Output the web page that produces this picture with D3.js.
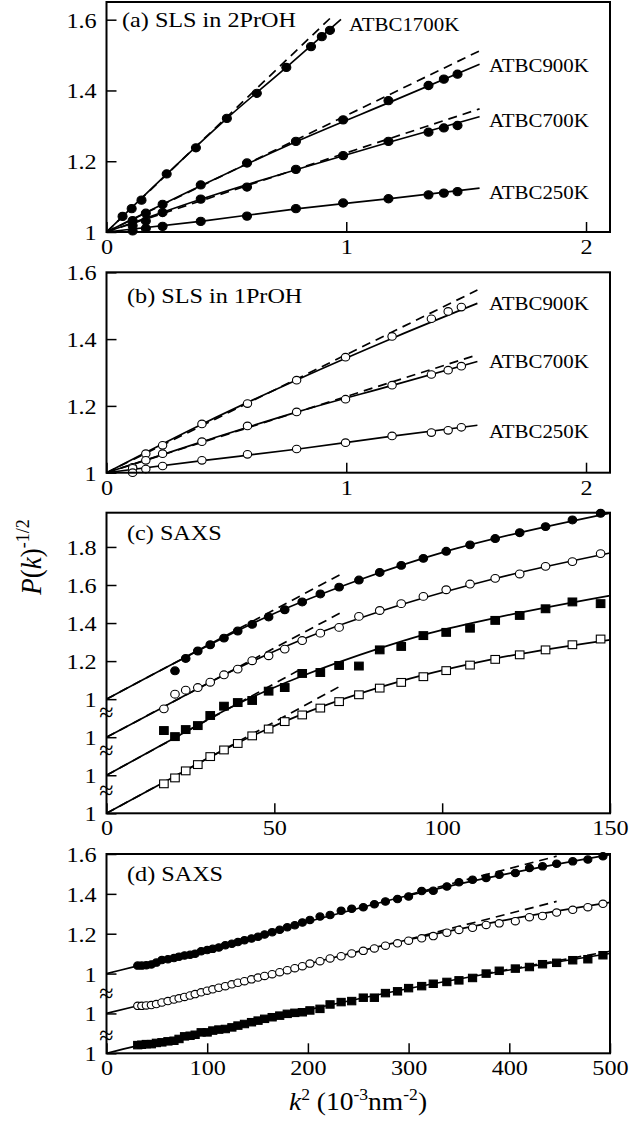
<!DOCTYPE html>
<html>
<head>
<meta charset="utf-8">
<script src="https://cdn.jsdelivr.net/npm/d3@7"></script>
<style>
  body { margin: 0; background: #fff; }
  svg { display: block; font-family: "Liberation Serif", "Times New Roman", serif; }
</style>
</head>
<body>
<svg id="chart" width="630" height="1133"></svg>
<script>
// ---- (a) SLS in 2PrOH : k^2 (nm^-2 x 1e-3), P(k)^-1/2
const aX1700 = [0.067, 0.105, 0.146, 0.251, 0.373, 0.502, 0.627, 0.750, 0.853, 0.898, 0.932];
const aY1700 = [1.044, 1.066, 1.090, 1.164, 1.238, 1.321, 1.392, 1.465, 1.524, 1.552, 1.570];
const aX = [0.109, 0.164, 0.234, 0.393, 0.586, 0.790, 0.987, 1.176, 1.343, 1.407, 1.464];
const aY900 = [1.032, 1.053, 1.078, 1.133, 1.195, 1.256, 1.317, 1.371, 1.414, 1.432, 1.446];
const aY700 = [1.018, 1.031, 1.055, 1.093, 1.127, 1.177, 1.216, 1.256, 1.282, 1.294, 1.301];
const aY250 = [1.003, 1.010, 1.016, 1.030, 1.045, 1.066, 1.082, 1.094, 1.105, 1.110, 1.114];
const aFit1700 = [[0, 1], [0.25, 1.163], [0.5, 1.32], [0.75, 1.465], [0.978, 1.601]];
const aFit900 = [[0, 1], [0.4, 1.133], [0.8, 1.258], [1.2, 1.372], [1.556, 1.474]];
const aFit700 = [[0, 1], [0.4, 1.094], [0.8, 1.178], [1.2, 1.258], [1.556, 1.326]];
const aFit250 = [[0, 1], [0.4, 1.031], [0.8, 1.066], [1.2, 1.096], [1.556, 1.124]];
const aInit1700 = [[0, 1], [0.942, 1.61]];
const aInit900 = [[0, 1], [1.556, 1.512]];
const aInit700 = [[0, 1], [1.556, 1.348]];

// ---- (b) SLS in 1PrOH
const bX = [0.109, 0.164, 0.234, 0.398, 0.588, 0.793, 0.997, 1.191, 1.355, 1.425, 1.480];
const bY900 = [1.016, 1.057, 1.082, 1.146, 1.207, 1.277, 1.346, 1.408, 1.461, 1.483, 1.496];
const bY700 = [1.013, 1.037, 1.057, 1.093, 1.140, 1.182, 1.220, 1.262, 1.294, 1.307, 1.319];
const bY250 = [1.000, 1.011, 1.020, 1.037, 1.055, 1.071, 1.090, 1.110, 1.120, 1.127, 1.136];
const bFit900 = [[0, 1], [0.4, 1.146], [0.8, 1.28], [1.2, 1.405], [1.547, 1.507]];
const bFit700 = [[0, 1], [0.4, 1.093], [0.8, 1.183], [1.2, 1.263], [1.547, 1.333]];
const bFit250 = [[0, 1], [0.4, 1.036], [0.8, 1.071], [1.2, 1.11], [1.547, 1.142]];
const bInit900 = [[0, 1], [1.547, 1.547]];
const bInit700 = [[0, 1], [1.547, 1.353]];

// ---- (c) SAXS, four curves stacked (real values, shifted by offsets)
const cX = [17.1, 20.4, 23.6, 27.2, 30.9, 35.0, 39.1, 43.4, 48.3, 53.1, 58.3, 63.7,
            69.3, 75.2, 81.4, 87.8, 94.4, 101.2, 108.3, 115.8, 123.1, 130.8, 138.8, 147.2];
const cFilledCircle = [1.149, 1.214, 1.253, 1.286, 1.321, 1.358, 1.393, 1.432, 1.470, 1.511, 1.553, 1.589,
                       1.626, 1.666, 1.703, 1.740, 1.777, 1.811, 1.844, 1.875, 1.907, 1.942, 1.977];
const cOpenCircle = [1.149, 1.226, 1.247, 1.261, 1.289, 1.328, 1.358, 1.402, 1.428, 1.463, 1.508, 1.547,
                     1.577, 1.635, 1.666, 1.702, 1.740, 1.775, 1.805, 1.835, 1.858, 1.898, 1.923, 1.965];
const cFilledSquare = [1.235, 1.203, 1.240, 1.261, 1.314, 1.363, 1.382, 1.393, 1.442, 1.461, 1.535, 1.540,
                       1.577, 1.574, 1.659, 1.677, 1.734, 1.751, 1.773, 1.814, 1.840, 1.875, 1.911, 1.902];
const cOpenSquare = [1.155, 1.186, 1.223, 1.256, 1.298, 1.333, 1.367, 1.407, 1.443, 1.482, 1.517, 1.553,
                     1.587, 1.623, 1.658, 1.688, 1.718, 1.750, 1.779, 1.809, 1.833, 1.859, 1.886, 1.916];
const cFitFC = [[0, 1], [23.3, 1.218], [48.3, 1.437], [75.2, 1.626], [101.2, 1.777], [123.1, 1.875], [150, 1.978]];
const cFitOC = [[0, 1], [17.3, 1.162], [39.2, 1.364], [58.1, 1.512], [87.7, 1.696], [115.5, 1.833], [150, 1.968]];
const cFitFS = [[0, 1], [17.5, 1.169], [39.2, 1.376], [58.1, 1.52], [81.5, 1.668], [94.4, 1.738], [115.5, 1.826], [150, 1.944]];
const cFitOS = [[0, 1], [17.5, 1.167], [39.2, 1.371], [58.1, 1.52], [87.7, 1.695], [115.5, 1.812], [150, 1.912]];
const cInitFC = [[0, 1], [70, 1.658]];
const cInitOC = [[0, 1], [70, 1.656]];
const cInitFS = [[0, 1], [57, 1.549]];
const cInitOS = [[0, 1], [70, 1.672]];

// ---- (d) SAXS, three curves stacked
const dX = [31, 35, 39.5, 44.5, 49.5, 55, 61, 67, 72, 77.5, 83, 88, 94, 100, 105.5, 111.5, 118, 124.5,
            130.5, 137, 144, 150.5, 157, 164.5, 172, 179.5, 187, 194.5, 202, 212, 222, 233, 243.5, 255,
            266, 277, 289, 300, 313, 324.5, 338, 350, 363.5, 377, 390, 406, 420, 433, 447, 463, 478, 493];
const dFilledCircle = [1.040, 1.040, 1.042, 1.046, 1.055, 1.068, 1.072, 1.078, 1.085, 1.091, 1.094, 1.100,
                       1.112, 1.118, 1.124, 1.131, 1.142, 1.150, 1.158, 1.167, 1.176, 1.185, 1.196, 1.208,
                       1.220, 1.232, 1.243, 1.256, 1.269, 1.286, 1.294, 1.315, 1.325, 1.333, 1.348, 1.362,
                       1.374, 1.387, 1.414, 1.416, 1.437, 1.458, 1.471, 1.480, 1.496, 1.505, 1.530, 1.538,
                       1.551, 1.563, 1.572, 1.589];
const dOpenCircle = [1.038, 1.038, 1.040, 1.042, 1.047, 1.055, 1.062, 1.070, 1.076, 1.083, 1.090, 1.097,
                     1.106, 1.114, 1.121, 1.129, 1.137, 1.146, 1.154, 1.162, 1.171, 1.180, 1.188, 1.197,
                     1.207, 1.217, 1.227, 1.237, 1.250, 1.262, 1.276, 1.287, 1.301, 1.314, 1.326, 1.340,
                     1.352, 1.365, 1.377, 1.388, 1.405, 1.419, 1.430, 1.444, 1.452, 1.463, 1.483, 1.489,
                     1.506, 1.520, 1.533, 1.550];
const dFilledSquare = [1.041, 1.043, 1.046, 1.046, 1.052, 1.055, 1.060, 1.063, 1.072, 1.085, 1.088, 1.093,
                       1.105, 1.105, 1.114, 1.119, 1.122, 1.130, 1.139, 1.147, 1.156, 1.164, 1.173, 1.181,
                       1.189, 1.198, 1.203, 1.206, 1.215, 1.223, 1.245, 1.257, 1.262, 1.279, 1.279, 1.302,
                       1.311, 1.327, 1.337, 1.349, 1.358, 1.366, 1.378, 1.400, 1.414, 1.425, 1.433, 1.447,
                       1.454, 1.467, 1.472, 1.492];
const dFitFC = [[0, 1], [28, 1.035], [100, 1.125], [200, 1.26], [300, 1.392], [400, 1.503], [500, 1.597]];
const dFitOC = [[0, 1], [28, 1.035], [100, 1.12], [200, 1.248], [300, 1.37], [400, 1.472], [500, 1.557]];
const dFitFS = [[0, 1], [28, 1.035], [100, 1.103], [200, 1.218], [300, 1.325], [400, 1.418], [500, 1.501]];
const dInitFC = [[300, 1.395], [447, 1.589]];
const dInitOC = [[300, 1.372], [447, 1.562]];
const dInitFS = [[360, 1.385], [500, 1.512]];

// ---- layout
const svg = d3.select("#chart");
const L = 106.5, R = 610;
const STRETCH = 1.1; // the original figure is a bit wider than tall

function addText(parent, x, y, str, size, anchor) {
  return parent.append("text")
    .attr("transform", `translate(${x},${y}) scale(${STRETCH},1)`)
    .attr("font-size", size)
    .attr("text-anchor", anchor || "start")
    .text(str);
}

function drawMarker(g, sym, cx, cy, size) {
  if (sym === "fc" || sym === "oc") {
    g.append("ellipse")
      .attr("cx", cx).attr("cy", cy)
      .attr("rx", size * STRETCH).attr("ry", size)
      .attr("fill", sym === "fc" ? "#000" : "#fff")
      .attr("stroke", "#000").attr("stroke-width", 1.1);
  } else {
    const w = size * 2;
    g.append("rect")
      .attr("x", cx - w * STRETCH / 2).attr("y", cy - w / 2)
      .attr("width", w * STRETCH).attr("height", w)
      .attr("fill", sym === "fs" ? "#000" : "#fff")
      .attr("stroke", "#000").attr("stroke-width", 1.1);
  }
}

function drawPanel(p) {
  const x = d3.scaleLinear().domain(p.xDomain).range([L, R]);
  const y = d3.scaleLinear().domain(p.yDomain).range([p.bottom, p.top]);
  const g = svg.append("g");

  const xAxis = d3.axisBottom(x).tickValues(p.xTicks)
    .tickSizeInner(-10).tickSizeOuter(0).tickPadding(5).tickFormat(d3.format("d"));
  const gx = g.append("g").attr("transform", `translate(0,${p.bottom})`).call(xAxis);

  const yAxis = d3.axisLeft(y).tickValues(p.yTicks)
    .tickSizeInner(-10).tickSizeOuter(0).tickPadding(9)
    .tickFormat((d, i) => p.yLabels[i]);
  const gy = g.append("g").attr("transform", `translate(${L},0)`).call(yAxis);

  [gx, gy].forEach(a => {
    a.attr("font-size", null).attr("font-family", null);
    a.select(".domain").remove();
    a.selectAll(".tick line").attr("stroke", "#000").attr("stroke-width", 1.5);
    a.selectAll(".tick text").attr("font-size", 22).attr("fill", "#000");
  });
  gx.selectAll(".tick text").attr("transform", `scale(${STRETCH},1)`).attr("dy", "0.78em");
  gy.selectAll(".tick text").attr("transform", `scale(${STRETCH},1)`).attr("dy", "0.34em");

  // fit curves
  const line = d3.line().x(d => x(d[0])).y(d => y(d[1])).curve(d3.curveMonotoneX);
  p.series.forEach(s => {
    const off = s.off || 0;
    if (s.fit) {
      g.append("path")
        .attr("d", line(s.fit.map(d => [d[0], d[1] - off])))
        .attr("fill", "none").attr("stroke", "#000").attr("stroke-width", 1.7);
    }
    if (s.init) {
      g.append("path")
        .attr("d", d3.line().x(d => x(d[0])).y(d => y(d[1] - off))(s.init))
        .attr("fill", "none").attr("stroke", "#000").attr("stroke-width", 1.7)
        .attr("stroke-dasharray", "9,6");
    }
  });
  p.series.forEach(s => {
    const off = s.off || 0;
    s.xs.forEach((xv, i) => drawMarker(g, s.sym, x(xv), y(s.ys[i] - off), p.mark));
  });

  // axis break marks
  (p.breaks || []).forEach(b => {
    g.append("text")
      .attr("x", L).attr("y", y(b))
      .attr("text-anchor", "middle").attr("dy", "0.32em")
      .attr("font-size", 26)
      .text("\u2248");
  });

  // frame
  g.append("rect")
    .attr("x", L).attr("y", p.top)
    .attr("width", R - L).attr("height", p.bottom - p.top)
    .attr("fill", "none").attr("stroke", "#000").attr("stroke-width", 2);

  addText(g, p.title[1], p.title[2], p.title[0], 22);
  (p.labels || []).forEach(l => addText(g, l[1], l[2], l[0], 19));
}

const panels = [
  {
    top: 2, bottom: 232, xDomain: [0, 2.1], yDomain: [1, 1.65], mark: 4.1,
    xTicks: [0, 1, 2], yTicks: [1, 1.2, 1.4, 1.6], yLabels: ["1", "1.2", "1.4", "1.6"],
    title: ["(a) SLS in 2PrOH", 122, 27],
    labels: [["ATBC1700K", 349, 31], ["ATBC900K", 489, 71.5], ["ATBC700K", 489, 127], ["ATBC250K", 489, 198.5]],
    series: [
      { xs: aX1700, ys: aY1700, sym: "fc", fit: aFit1700, init: aInit1700 },
      { xs: aX, ys: aY900, sym: "fc", fit: aFit900, init: aInit900 },
      { xs: aX, ys: aY700, sym: "fc", fit: aFit700, init: aInit700 },
      { xs: aX, ys: aY250, sym: "fc", fit: aFit250 }
    ]
  },
  {
    top: 272.3, bottom: 472.7, xDomain: [0, 2.1], yDomain: [1, 1.6], mark: 3.8,
    xTicks: [0, 1, 2], yTicks: [1, 1.2, 1.4, 1.6], yLabels: ["1", "1.2", "1.4", "1.6"],
    title: ["(b) SLS in 1PrOH", 127, 303],
    labels: [["ATBC900K", 489, 309.5], ["ATBC700K", 489, 367.5], ["ATBC250K", 489, 437.5]],
    series: [
      { xs: bX, ys: bY900, sym: "oc", fit: bFit900, init: bInit900 },
      { xs: bX, ys: bY700, sym: "oc", fit: bFit700, init: bInit700 },
      { xs: bX, ys: bY250, sym: "oc", fit: bFit250 }
    ]
  },
  {
    top: 512.7, bottom: 813.3, xDomain: [0, 150], yDomain: [0.4, 1.98], mark: 3.9,
    xTicks: [0, 50, 100, 150],
    yTicks: [0.4, 0.6, 0.8, 1.0, 1.2, 1.4, 1.6, 1.8],
    yLabels: ["1", "1", "1", "1", "1.2", "1.4", "1.6", "1.8"],
    breaks: [0.93, 0.73, 0.52],
    title: ["(c) SAXS", 127, 540],
    series: [
      { xs: cX.slice(1), ys: cFilledCircle, sym: "fc", off: 0, fit: cFitFC, init: cInitFC },
      { xs: cX, ys: cOpenCircle, sym: "oc", off: 0.2, fit: cFitOC, init: cInitOC },
      { xs: cX, ys: cFilledSquare, sym: "fs", off: 0.4, fit: cFitFS, init: cInitFS },
      { xs: cX, ys: cOpenSquare, sym: "os", off: 0.6, fit: cFitOS, init: cInitOS }
    ]
  },
  {
    top: 854, bottom: 1053.3, xDomain: [0, 500], yDomain: [0.6, 1.6], mark: 3.7,
    xTicks: [0, 100, 200, 300, 400, 500],
    yTicks: [0.6, 0.8, 1.0, 1.2, 1.4, 1.6],
    yLabels: ["1", "1", "1", "1.2", "1.4", "1.6"],
    breaks: [0.9, 0.69],
    title: ["(d) SAXS", 127, 881],
    series: [
      { xs: dX, ys: dFilledCircle, sym: "fc", off: 0, fit: dFitFC, init: dInitFC },
      { xs: dX, ys: dOpenCircle, sym: "oc", off: 0.2, fit: dFitOC, init: dInitOC },
      { xs: dX, ys: dFilledSquare, sym: "fs", off: 0.4, fit: dFitFS, init: dInitFS }
    ]
  }
];

panels.forEach(drawPanel);

// axis titles
const yTitle = svg.append("text")
  .attr("transform", `translate(41,557) scale(${STRETCH},1) rotate(-90)`)
  .attr("font-size", 27).attr("text-anchor", "middle");
yTitle.append("tspan").attr("font-style", "italic").text("P");
yTitle.append("tspan").text("(");
yTitle.append("tspan").attr("font-style", "italic").text("k");
yTitle.append("tspan").text(")");
yTitle.append("tspan").attr("font-size", 18).attr("dy", -11).text("-1/2");

const xTitle = svg.append("text")
  .attr("transform", `translate(358,1110) scale(${STRETCH},1)`)
  .attr("font-size", 25).attr("text-anchor", "middle");
xTitle.append("tspan").attr("font-style", "italic").text("k");
xTitle.append("tspan").attr("font-size", 16).attr("dy", -10).text("2");
xTitle.append("tspan").attr("dy", 10).text(" (10");
xTitle.append("tspan").attr("font-size", 16).attr("dy", -10).text("-3");
xTitle.append("tspan").attr("dy", 10).text("nm");
xTitle.append("tspan").attr("font-size", 16).attr("dy", -10).text("-2");
xTitle.append("tspan").attr("dy", 10).text(")");
</script>
</body>
</html>
